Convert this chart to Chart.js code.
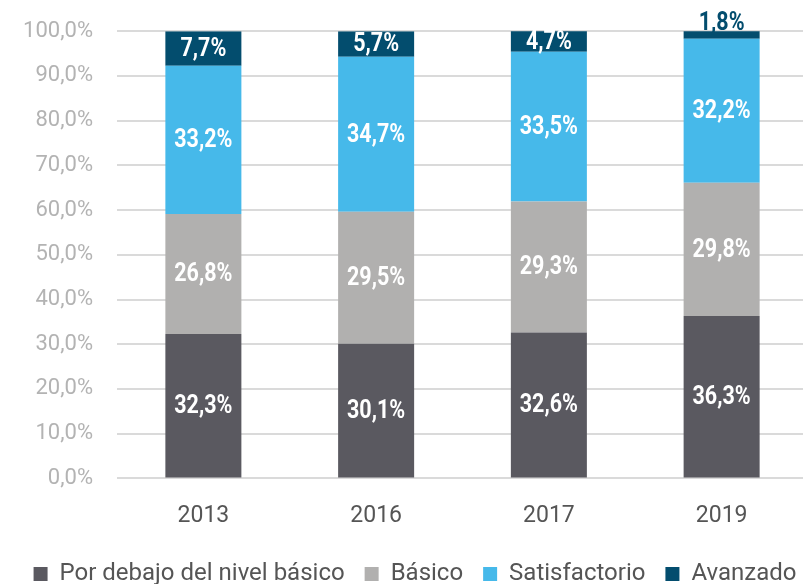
<!DOCTYPE html>
<html>
<head>
<meta charset="utf-8">
<script src="https://cdn.jsdelivr.net/npm/chart.js@4"></script>
<style>
  html, body { margin: 0; padding: 0; background: #fff; overflow: hidden; }
  #wrap { width: 803px; height: 584px; overflow: hidden; position: relative; }
  canvas { display: block; margin-top: -6px; }
</style>
</head>
<body>
<div id="wrap"><canvas id="c" width="832" height="602"></canvas></div>
<script>
/* ---------- datos ---------- */
const years = ["2013", "2016", "2017", "2019"];
const porDebajo = [32.3, 30.1, 32.6, 36.3];
const basico = [26.8, 29.5, 29.3, 29.8];
const satisfactorio = [33.2, 34.7, 33.5, 32.2];
const avanzado = [7.7, 5.7, 4.7, 1.8];

const pct = (v) => v.toFixed(1).replace(".", ",") + "%";

/* etiquetas dentro de las barras (o encima si el tramo es muy chico) */
const valueLabels = {
  id: "valueLabels",
  afterDatasetsDraw(chart) {
    const ctx = chart.ctx;
    chart.data.datasets.forEach((ds, i) => {
      chart.getDatasetMeta(i).data.forEach((bar, j) => {
        const v = ds.data[j];
        const small = v < 3;
        ctx.save();
        ctx.font = "bold 25px Roboto, sans-serif";
        ctx.textAlign = "center";
        ctx.textBaseline = small ? "alphabetic" : "middle";
        ctx.fillStyle = small ? ds.backgroundColor : "#fff";
        ctx.translate(bar.x, small ? bar.y - 1 : (bar.y + bar.base) / 2 + 1);
        ctx.scale(0.86, 1); // letra condensada
        ctx.fillText(pct(v), 0, 0);
        ctx.restore();
      });
    });
  },
};

/* corre la leyenda un poco a la derecha, como en el original */
const legendShift = {
  id: "legendShift",
  afterLayout(chart) {
    chart.legend.left += 11;
    chart.legend.right += 11;
  },
};

new Chart(document.getElementById("c"), {
  type: "bar",
  data: {
    labels: years,
    datasets: [
      { label: "Por debajo del nivel básico", data: porDebajo, backgroundColor: "#5a5960" },
      { label: "Básico", data: basico, backgroundColor: "#b1b0af" },
      { label: "Satisfactorio", data: satisfactorio, backgroundColor: "#46b9ea" },
      { label: "Avanzado", data: avanzado, backgroundColor: "#034d6e" },
    ],
  },
  options: {
    responsive: false,
    animation: false,
    layout: { padding: { top: 14, right: 24, bottom: 0, left: 0 } },
    datasets: { bar: { barPercentage: 0.44, categoryPercentage: 1 } },
    scales: {
      x: {
        stacked: true,
        afterFit: (s) => { s.height -= 12; },
        grid: { display: false, drawTicks: false },
        border: { display: false },
        ticks: { color: "#555", padding: 24, font: { size: 23, family: "Roboto" } },
      },
      y: {
        stacked: true,
        min: 0,
        max: 100,
        afterFit: (s) => { s.width = 117; },
        grid: { color: "#dadada", lineWidth: 2, drawTicks: false },
        border: { display: false },
        ticks: {
          stepSize: 10,
          padding: 24,
          color: "#b3b3b3",
          font: { size: 22, family: "Roboto" },
          callback: (v) => pct(v),
        },
      },
    },
    plugins: {
      legend: {
        position: "bottom",
        labels: {
          boxWidth: 14,
          boxHeight: 14,
          padding: 20,
          color: "#555",
          font: { size: 24, family: "Roboto" },
        },
      },
      tooltip: { enabled: false },
    },
  },
  plugins: [valueLabels, legendShift],
});
</script>
</body>
</html>
